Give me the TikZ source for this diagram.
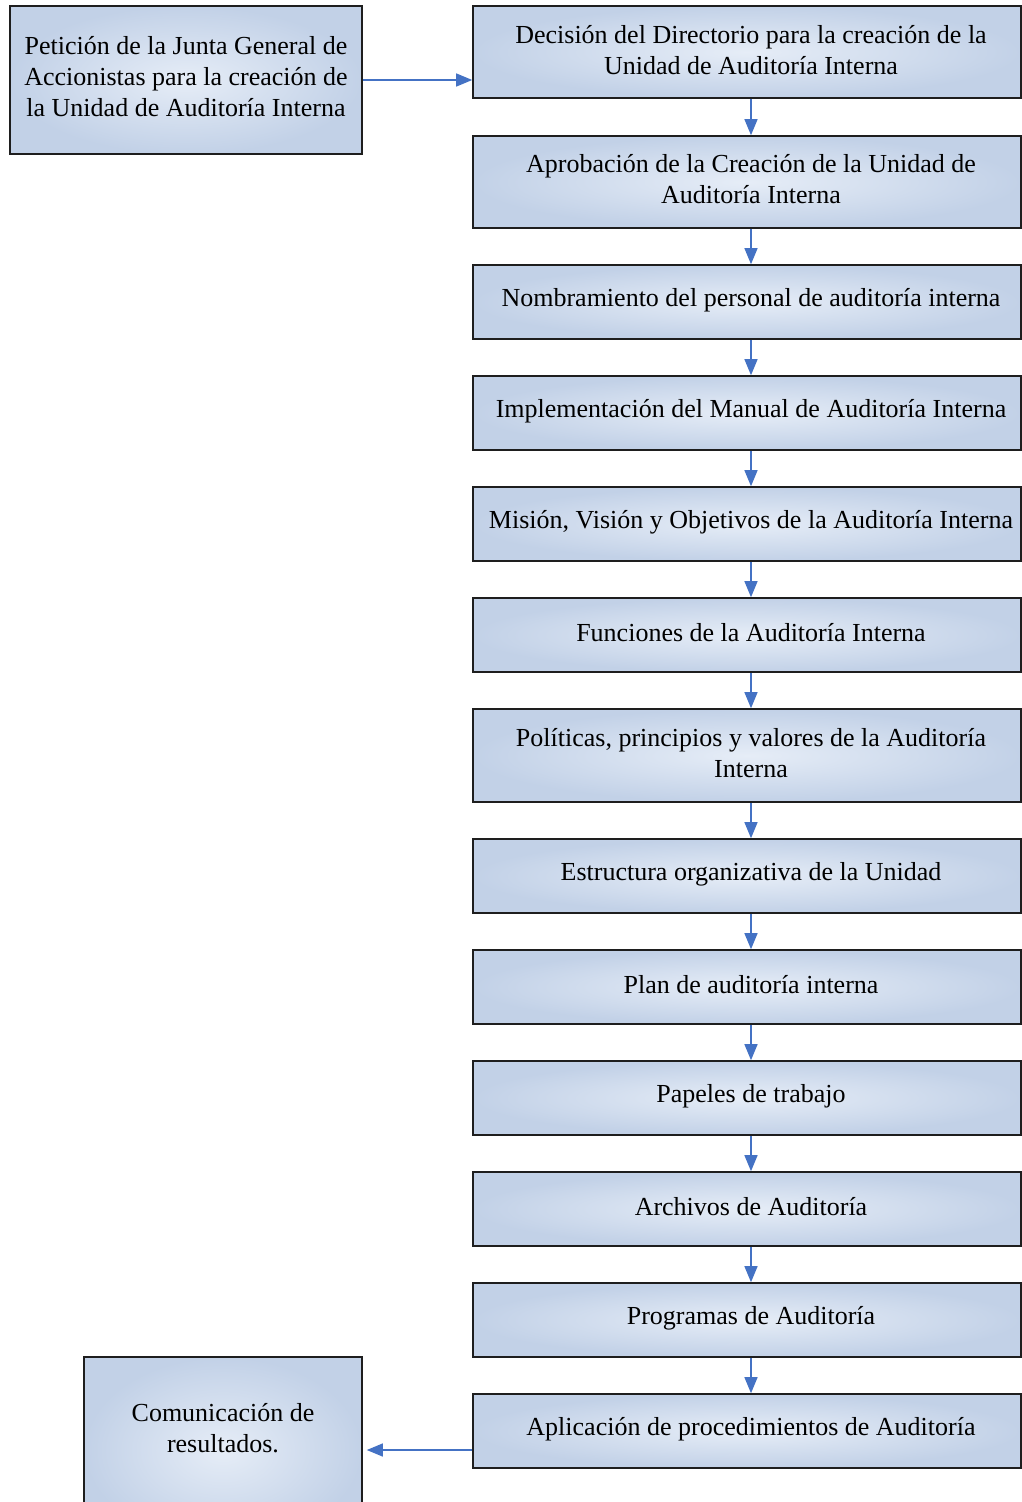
\documentclass[tikz,border=0pt]{standalone}
\usepackage{fontspec}
\setmainfont{Liberation Serif}
\usetikzlibrary{arrows.meta}
\definecolor{arrowblue}{HTML}{4472C4}
\definecolor{boxin}{HTML}{E6EDF7}
\definecolor{boxout}{HTML}{C2D1E7}
\definecolor{boxline}{HTML}{1E1E1E}
\tikzset{
  box/.style={draw=boxline, line width=1.6pt, inner color=boxin, outer color=boxout, inner sep=0pt, rectangle},
  rbox/.style={box, minimum width=548pt},
  txt/.style={font=\fontsize{26}{31}\selectfont, align=center, text=black, inner sep=0pt},
  flow/.style={draw=arrowblue, line width=1.3pt, -{Triangle[length=16pt,width=13pt]}},
}
\begin{document}
\begin{tikzpicture}[x=1pt,y=-1pt]
\useasboundingbox (0,0) rectangle (1022,1502);
\clip (0,0) rectangle (1022,1502);
\fill[white] (0,0) rectangle (1022,1502);
% left boxes
\node[box, minimum width=352pt, minimum height=148pt] (pl) at (186,80) {};
\node[txt] (tpl) at (186,77) {Petición de la Junta General de\\Accionistas para la creación de\\la Unidad de Auditoría Interna};
\node[box, minimum width=278pt, minimum height=186pt] (com) at (223,1450) {};
\node[txt] (tcom) at (223,1428.5) {Comunicación de\\resultados.};
% right boxes
\node[rbox, minimum height=92pt] (b1) at (747,52) {};
\node[txt] (t1) at (751,50) {Decisión del Directorio para la creación de la\\Unidad de Auditoría Interna};
\node[rbox, minimum height=92pt] (b2) at (747,182) {};
\node[txt] (t2) at (751,179) {Aprobación de la Creación de la Unidad de\\Auditoría Interna};
\node[rbox, minimum height=74pt] (b3) at (747,302) {};
\node[txt] (t3) at (751,300) {Nombramiento del personal de auditoría interna};
\node[rbox, minimum height=74pt] (b4) at (747,413) {};
\node[txt] (t4) at (751,411) {Implementación del Manual de Auditoría Interna};
\node[rbox, minimum height=74pt] (b5) at (747,524) {};
\node[txt] (t5) at (751,522) {Misión, Visión y Objetivos de la Auditoría Interna};
\node[rbox, minimum height=74pt] (b6) at (747,635) {};
\node[txt] (t6) at (751,633) {Funciones de la Auditoría Interna};
\node[rbox, minimum height=93pt] (b7) at (747,755.5) {};
\node[txt] (t7) at (751,753) {Políticas, principios y valores de la Auditoría\\Interna};
\node[rbox, minimum height=74pt] (b8) at (747,876) {};
\node[txt] (t8) at (751,874) {Estructura organizativa de la Unidad};
\node[rbox, minimum height=74pt] (b9) at (747,987) {};
\node[txt] (t9) at (751,985) {Plan de auditoría interna};
\node[rbox, minimum height=74pt] (b10) at (747,1098) {};
\node[txt] (t10) at (751,1096) {Papeles de trabajo};
\node[rbox, minimum height=74pt] (b11) at (747,1209) {};
\node[txt] (t11) at (751,1207) {Archivos de Auditoría};
\node[rbox, minimum height=74pt] (b12) at (747,1320) {};
\node[txt] (t12) at (751,1318) {Programas de Auditoría};
\node[rbox, minimum height=74pt] (b13) at (747,1431) {};
\node[txt] (t13) at (751,1429) {Aplicación de procedimientos de Auditoría};
% connectors
\draw[flow] (pl.east) -- (pl.east -| b1.west);
\foreach \a/\b/\t in {b1/b2/t1,b2/b3/t2,b3/b4/t3,b4/b5/t4,b5/b6/t5,b6/b7/t6,b7/b8/t7,b8/b9/t8,b9/b10/t9,b10/b11/t10,b11/b12/t11,b12/b13/t12}
  \draw[flow] (\a.south -| \t) -- (\b.north -| \t);
\draw[flow] (com.east -| b13.west) -- ([xshift=4pt]com.east);
\end{tikzpicture}
\end{document}
